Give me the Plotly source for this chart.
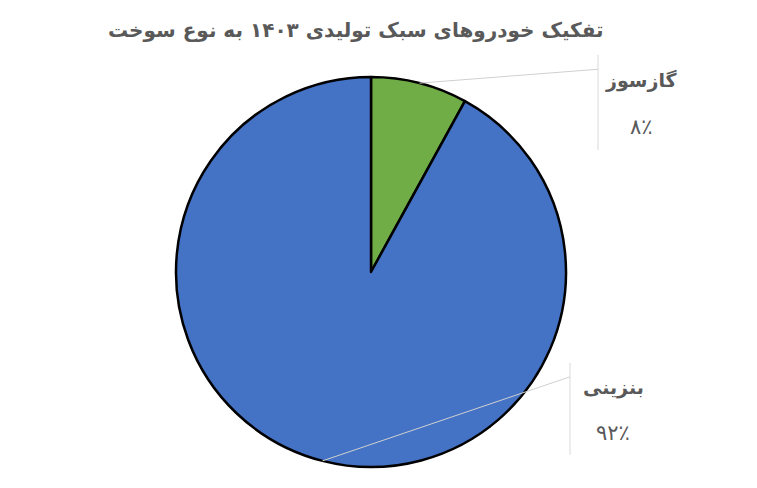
import math
import plotly.graph_objects as go

labels = ['گازسوز', 'بنزینی']
values = [8, 92]
pct_text = ['۸٪', '۹۲٪']
colors = ['#70AD47', '#4472C4']

W, H = 757, 488
cx, cy, r = 371, 272, 195  # pie centre / radius in pixels

# label boxes: x of the grey bar, y top/bottom of the bar (pixels)
boxes = [(598, 55, 150), (570, 363, 455)]

fig = go.Figure(go.Pie(
    labels=labels, values=values, sort=False, direction='clockwise', rotation=0,
    marker=dict(colors=colors, line=dict(color='black', width=2.5)),
    textinfo='none', hoverinfo='label+percent', showlegend=False,
    domain=dict(x=[(cx - r) / W, (cx + r) / W], y=[1 - (cy + r) / H, 1 - (cy - r) / H]),
))

def px(x, y):
    return x / W, 1 - y / H

total = sum(values)
start = 0
for i, v in enumerate(values):
    mid = math.radians((start + v / 2) / total * 360)
    start += v
    ex, ey = cx + r * math.sin(mid), cy - r * math.cos(mid)
    bx, y0, y1 = boxes[i]
    ly = y0 + (y1 - y0) * 0.15
    x0p, y0p = px(ex, ey)
    x1p, y1p = px(bx, ly)
    fig.add_shape(type='line', xref='paper', yref='paper', x0=x0p, y0=y0p, x1=x1p, y1=y1p,
                  line=dict(color='#D0D0D0', width=1))
    fig.add_shape(type='line', xref='paper', yref='paper',
                  x0=bx / W, x1=bx / W, y0=1 - y0 / H, y1=1 - y1 / H,
                  line=dict(color='#D9D9D9', width=1))
    tx = bx + 43
    fig.add_annotation(x=tx / W, y=1 - (y0 + (y1 - y0) * 0.27) / H, xref='paper', yref='paper',
                       xanchor='center', yanchor='middle',
                       text='<b>' + labels[i] + '</b>', showarrow=False,
                       font=dict(size=19, color='#595959', family='DejaVu Sans'))
    fig.add_annotation(x=tx / W, y=1 - (y0 + (y1 - y0) * 0.76) / H, xref='paper', yref='paper',
                       xanchor='center', yanchor='middle',
                       text=pct_text[i], showarrow=False,
                       font=dict(size=21, color='#595959', family='DejaVu Sans'))

fig.update_layout(
    width=W, height=H, margin=dict(l=0, r=0, t=0, b=0),
    paper_bgcolor='white', plot_bgcolor='white',
    title=dict(text='<b>تفکیک خودروهای سبک تولیدی ۱۴۰۳ به نوع سوخت</b>',
               x=0.47, xanchor='center', y=1 - 30 / H, yanchor='middle',
               font=dict(size=20, color='#595959', family='DejaVu Sans')),
)

fig.write_html('out.html', config={'displayModeBar': False},
               post_script="document.body.style.margin='0';")
